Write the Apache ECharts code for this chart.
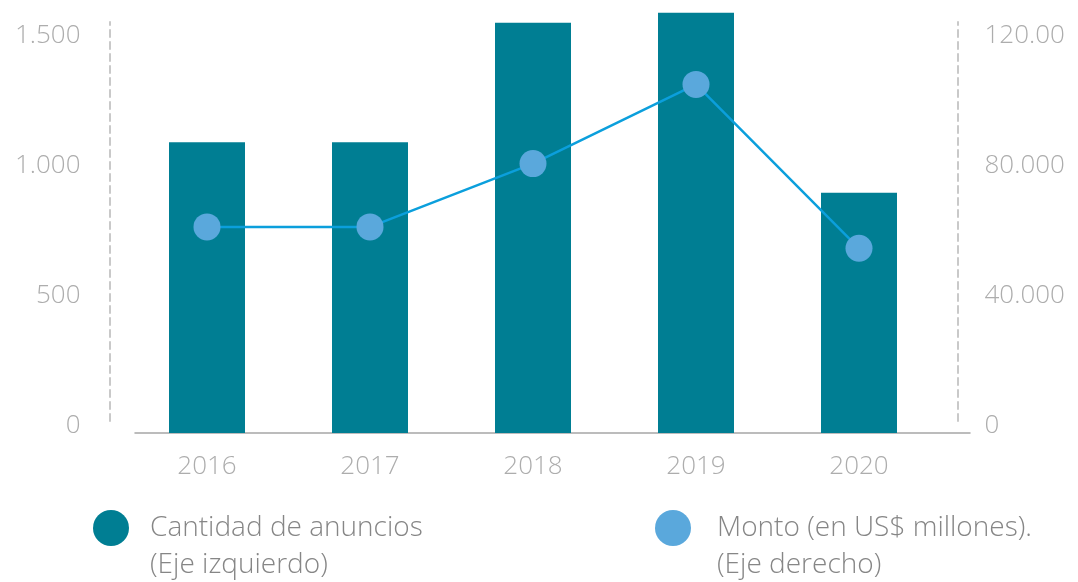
<!DOCTYPE html>
<html>
<head>
<meta charset="utf-8">
<script src="https://cdn.jsdelivr.net/npm/echarts@6/dist/echarts.min.js"></script>
<style>
  html, body { margin: 0; padding: 0; background: #fff; }
  #main { width: 1078px; height: 582px; }
</style>
</head>
<body>
<div id="main"></div>
<script type="text/javascript">
    // datos
    var years = ['2016', '2017', '2018', '2019', '2020'];
    var anuncios = [1120, 1120, 1580, 1618, 925];      // eje izquierdo
    var monto = [63500, 63500, 83000, 107400, 56900];  // eje derecho
    var leftTicks = ['0', '500', '1.000', '1.500'];
    var rightTicks = ['0', '40.000', '80.000', '120.00'];

    var fontFam = '"Open Sans", "Noto Sans", sans-serif';
    var labelGray = '#adadad';
    var dashed = { show: true, lineStyle: { color: '#c9c9c9', width: 2, type: [7, 5] } };
    var legendText = { fontFamily: fontFam, fontSize: 28, fontWeight: 300, color: '#868686', lineHeight: 37 };

    var myChart = echarts.init(document.getElementById('main'), null, { renderer: 'canvas' });

    var option = {
        animation: false,
        legend: [
            {
                left: 88, top: 467.5,
                icon: 'circle', itemWidth: 36, itemHeight: 36,
                selectedMode: false,
                data: [{ name: 'Cantidad de anuncios\n(Eje izquierdo)' }],
                // linea vacia arriba para que el circulo quede al nivel de la primera linea
                formatter: function (name) { return '\n' + name; },
                textStyle: Object.assign({ padding: [0, 0, 0, 16] }, legendText)
            },
            {
                left: 650, top: 467.5,
                icon: 'circle', itemWidth: 36, itemHeight: 36,
                selectedMode: false,
                data: [{ name: 'Monto (en US$ millones).\n(Eje derecho)' }],
                formatter: function (name) { return '\n' + name; },
                textStyle: Object.assign({ padding: [0, 0, 0, 21] }, legendText)
            }
        ],
        grid: [
            { left: 125.5, right: 137.5, top: 43.5, bottom: 149 },   // datos
            { left: 110, right: 120, top: 22, bottom: 161 },         // lineas punteadas
            { left: 135, right: 108, top: 43.5, bottom: 149 }        // linea base
        ],
        xAxis: [
            {
                type: 'category', gridIndex: 0, data: years,
                axisLine: { show: false }, axisTick: { show: false },
                axisLabel: { color: labelGray, fontFamily: fontFam, fontSize: 26, fontWeight: 300, margin: 21 }
            },
            { type: 'value', gridIndex: 1, show: false, min: 0, max: 1 },
            {
                type: 'value', gridIndex: 2, min: 0, max: 1,
                axisLine: { show: true, onZero: false, lineStyle: { color: '#a6a6a6', width: 1.5 } },
                axisTick: { show: false }, axisLabel: { show: false }, splitLine: { show: false }
            }
        ],
        yAxis: [
            {
                type: 'value', gridIndex: 0, position: 'left', min: 0, max: 1500, interval: 500,
                axisLine: { show: false }, axisTick: { show: false }, splitLine: { show: false },
                axisLabel: {
                    color: labelGray, fontFamily: fontFam, fontSize: 26, fontWeight: 300, margin: 45,
                    verticalAlign: 'bottom', lineHeight: 15,
                    formatter: function (v) { return leftTicks[Math.round(v / 500)]; }
                }
            },
            {
                type: 'value', gridIndex: 0, position: 'right', min: 0, max: 120000, interval: 40000,
                axisLine: { show: false }, axisTick: { show: false }, splitLine: { show: false },
                axisLabel: {
                    color: labelGray, fontFamily: fontFam, fontSize: 26, fontWeight: 300, margin: 44,
                    verticalAlign: 'bottom', lineHeight: 15,
                    formatter: function (v) { return rightTicks[Math.round(v / 40000)]; }
                }
            },
            {
                type: 'value', gridIndex: 1, position: 'left', min: 0, max: 1,
                axisLine: dashed, axisTick: { show: false }, axisLabel: { show: false }, splitLine: { show: false }
            },
            {
                type: 'value', gridIndex: 1, position: 'right', min: 0, max: 1,
                axisLine: dashed, axisTick: { show: false }, axisLabel: { show: false }, splitLine: { show: false }
            },
            { type: 'value', gridIndex: 2, show: false, min: 0, max: 1 }
        ],
        series: [
            {
                name: 'Cantidad de anuncios\n(Eje izquierdo)',
                type: 'bar', xAxisIndex: 0, yAxisIndex: 0,
                barWidth: 76, clip: false,
                itemStyle: { color: '#007e93' },
                data: anuncios
            },
            {
                name: 'Monto (en US$ millones).\n(Eje derecho)',
                type: 'line', xAxisIndex: 0, yAxisIndex: 1,
                symbol: 'circle', symbolSize: 27, clip: false,
                lineStyle: { color: '#0b9fdc', width: 2.5 },
                itemStyle: { color: '#5aa8dc' },
                data: monto
            }
        ]
    };
    myChart.setOption(option);
</script>
</body>
</html>
